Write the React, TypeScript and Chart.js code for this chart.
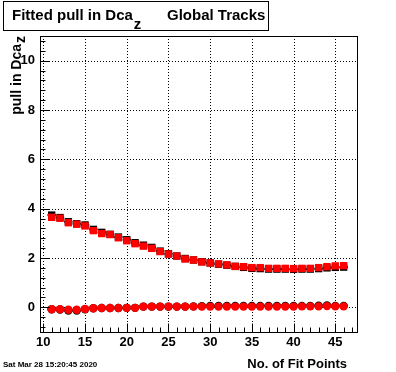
import React, { useEffect, useRef } from 'react';
import { Chart, registerables } from 'chart.js';

Chart.register(...registerables);

const fitPoints = [11, 12, 13, 14, 15, 16, 17, 18, 19, 20, 21, 22, 23, 24, 25, 26, 27, 28, 29, 30, 31, 32, 33, 34, 35, 36, 37, 38, 39, 40, 41, 42, 43, 44, 45, 46];

// red squares (sigma of pull)
const sigmaPull = [3.65, 3.61, 3.43, 3.37, 3.30, 3.11, 2.99, 2.95, 2.82, 2.70, 2.58, 2.48, 2.39, 2.26, 2.16, 2.08, 1.96, 1.92, 1.84, 1.80, 1.76, 1.72, 1.66, 1.65, 1.61, 1.61, 1.58, 1.58, 1.58, 1.57, 1.58, 1.58, 1.61, 1.65, 1.68, 1.69];
// black squares behind
const sigmaPullRef = [3.74, 3.64, 3.47, 3.39, 3.34, 3.16, 3.04, 2.96, 2.85, 2.74, 2.62, 2.52, 2.43, 2.28, 2.17, 2.08, 1.98, 1.92, 1.85, 1.80, 1.75, 1.71, 1.66, 1.62, 1.58, 1.57, 1.55, 1.55, 1.55, 1.54, 1.55, 1.55, 1.57, 1.60, 1.62, 1.63];
// red circles (mean of pull)
const meanPull = [-0.08, -0.08, -0.10, -0.10, -0.07, -0.04, -0.03, -0.03, -0.03, -0.02, -0.02, 0.03, 0.03, 0.03, 0.03, 0.03, 0.03, 0.03, 0.03, 0.03, 0.03, 0.03, 0.03, 0.03, 0.03, 0.03, 0.03, 0.03, 0.03, 0.03, 0.04, 0.04, 0.04, 0.05, 0.04, 0.04];
// black circles behind
const meanPullRef = [-0.08, -0.09, -0.13, -0.13, -0.08, -0.04, -0.03, -0.03, -0.03, -0.02, -0.02, 0.03, 0.03, 0.03, 0.03, 0.03, 0.03, 0.04, 0.05, 0.06, 0.06, 0.06, 0.06, 0.06, 0.06, 0.06, 0.06, 0.06, 0.06, 0.06, 0.06, 0.06, 0.07, 0.08, 0.06, 0.06];

const xTicks = [10, 15, 20, 25, 30, 35, 40, 45];
const yTicks = [0, 2, 4, 6, 8, 10];
const xMinorStep = 1;
const yMinorStep = 0.4;

const xRange = [9.6, 47.6];
const yRange = [-1, 11];

const titleText = 'Fitted pull in Dca';
const titleSub = 'z';
const titleRest = 'Global Tracks';
const yTitle = 'pull in Dca';
const yTitleSub = 'z';
const xTitle = 'No. of Fit Points';
const dateText = 'Sat Mar 28 15:20:45 2020';

const FONT = '"Liberation Sans", Arial, Helvetica, sans-serif';

const rootPlugin = {
  id: 'rootStyle',
  beforeDatasetsDraw(chart: any) {
    const { ctx, chartArea: a, scales } = chart;
    const x = scales.x, y = scales.y;
    ctx.save();
    ctx.strokeStyle = '#000';
    ctx.lineWidth = 1;
    ctx.setLineDash([1, 2]);
    for (const v of xTicks) {
      const px = Math.round(x.getPixelForValue(v)) + 0.5;
      ctx.beginPath(); ctx.moveTo(px, a.top); ctx.lineTo(px, a.bottom); ctx.stroke();
    }
    for (const v of yTicks) {
      const py = Math.round(y.getPixelForValue(v)) + 0.5;
      ctx.beginPath(); ctx.moveTo(a.left, py); ctx.lineTo(a.right, py); ctx.stroke();
    }
    ctx.setLineDash([]);
    // horizontal bin-width bars for the black series
    chart.data.datasets.forEach((ds: any) => {
      if (!ds.binBars) return;
      ctx.strokeStyle = '#000';
      ctx.lineWidth = 2;
      for (const p of ds.data) {
        const py = y.getPixelForValue(p.y);
        ctx.beginPath();
        ctx.moveTo(x.getPixelForValue(p.x - 0.5), py);
        ctx.lineTo(x.getPixelForValue(p.x + 0.5), py);
        ctx.stroke();
      }
    });
    ctx.restore();
  },
  afterDraw(chart: any) {
    const { ctx, chartArea: a, scales } = chart;
    const x = scales.x, y = scales.y;
    ctx.save();
    ctx.strokeStyle = '#000';
    ctx.fillStyle = '#000';
    ctx.lineWidth = 1;
    // frame
    ctx.strokeRect(Math.round(a.left) + 0.5, Math.round(a.top) + 0.5, Math.round(a.right - a.left), Math.round(a.bottom - a.top));
    // x ticks
    const bottom = Math.round(a.bottom) + 0.5;
    for (let v = Math.ceil(xRange[0]); v <= xRange[1]; v += xMinorStep) {
      const px = Math.round(x.getPixelForValue(v)) + 0.5;
      const major = xTicks.includes(v);
      ctx.beginPath(); ctx.moveTo(px, bottom); ctx.lineTo(px, bottom - (major ? 9 : 5)); ctx.stroke();
    }
    // y ticks
    const left = Math.round(a.left) + 0.5;
    for (let k = Math.ceil(yRange[0] / yMinorStep); k * yMinorStep <= yRange[1] + 1e-9; k++) {
      const v = k * yMinorStep;
      const py = Math.round(y.getPixelForValue(v)) + 0.5;
      const major = Math.abs(v / 2 - Math.round(v / 2)) < 1e-6;
      ctx.beginPath(); ctx.moveTo(left, py); ctx.lineTo(left + (major ? 9 : 5), py); ctx.stroke();
    }
    // title box
    ctx.fillStyle = '#fff';
    ctx.fillRect(4, 2, 264, 28);
    ctx.strokeRect(3.5, 1.5, 265, 29);
    ctx.fillStyle = '#000';
    ctx.font = `bold 15px ${FONT}`;
    ctx.textBaseline = 'alphabetic';
    ctx.textAlign = 'left';
    ctx.fillText(titleText, 12, 20);
    const w1 = ctx.measureText(titleText).width;
    ctx.fillText(titleSub, 12 + w1 + 1, 29);
    ctx.fillText(titleRest, 167, 20);
    // y title
    ctx.save();
    ctx.translate(21, 44);
    ctx.rotate(-Math.PI / 2);
    ctx.font = `bold 14px ${FONT}`;
    ctx.textAlign = 'right';
    ctx.fillText(yTitle, 0, 0);
    ctx.textAlign = 'left';
    ctx.fillText(yTitleSub, 1, 4);
    ctx.restore();
    // x title
    ctx.font = `bold 13px ${FONT}`;
    ctx.textAlign = 'right';
    ctx.fillText(xTitle, 347, 368);
    // date
    ctx.font = `bold 8px ${FONT}`;
    ctx.textAlign = 'left';
    ctx.fillText(dateText, 3, 367);
    ctx.restore();
  },
};

export default function App() {
  const ref = useRef<HTMLCanvasElement | null>(null);
  useEffect(() => {
    document.body.style.margin = '0';
    const canvas = ref.current!;
    const pts = (ys: number[]) => fitPoints.map((v, i) => ({ x: v, y: ys[i] }));
    const chart = new Chart(canvas, {
      type: 'scatter',
      data: {
        datasets: [
          { label: 'sigma ref', data: pts(sigmaPullRef), pointStyle: 'rect', pointRadius: 5.2, backgroundColor: '#000', borderWidth: 0, order: 3, binBars: true } as any,
          { label: 'mean ref', data: pts(meanPullRef), pointStyle: 'circle', pointRadius: 4.2, backgroundColor: '#000', borderWidth: 0, order: 3, binBars: true } as any,
          { label: 'sigma', data: pts(sigmaPull), pointStyle: 'rect', pointRadius: 5.2, backgroundColor: '#ff0000', borderWidth: 0, order: 1 } as any,
          { label: 'mean', data: pts(meanPull), pointStyle: 'circle', pointRadius: 4.2, backgroundColor: '#ff0000', borderWidth: 0, order: 1 } as any,
        ],
      },
      options: {
        animation: false,
        responsive: false,
        maintainAspectRatio: false,
        layout: { padding: { left: 0, top: 36, right: 39, bottom: 0 } },
        plugins: { legend: { display: false }, tooltip: { enabled: false }, title: { display: false } },
        scales: {
          x: {
            type: 'linear',
            min: xRange[0],
            max: xRange[1],
            grid: { display: false, drawTicks: false },
            border: { display: false },
            afterBuildTicks: (axis: any) => { axis.ticks = xTicks.map((v) => ({ value: v })); },
            afterFit: (s: any) => { s.height = 40; },
            ticks: { autoSkip: false, maxRotation: 0, padding: 3, color: '#000', font: { family: FONT, weight: 'bold', size: 13 } },
          },
          y: {
            type: 'linear',
            min: yRange[0],
            max: yRange[1],
            grid: { display: false, drawTicks: false },
            border: { display: false },
            afterBuildTicks: (axis: any) => { axis.ticks = yTicks.map((v) => ({ value: v })); },
            afterFit: (s: any) => { s.width = 40; },
            ticks: { autoSkip: false, padding: 5, color: '#000', font: { family: FONT, weight: 'bold', size: 13 } },
          },
        },
      } as any,
      plugins: [rootPlugin],
    });
    return () => chart.destroy();
  }, []);
  return (
    <div style={{ position: 'absolute', left: 0, top: 0, width: 396, height: 372, background: '#fff' }}>
      <canvas ref={ref} width={396} height={372} style={{ width: 396, height: 372, display: 'block' }} />
    </div>
  );
}
